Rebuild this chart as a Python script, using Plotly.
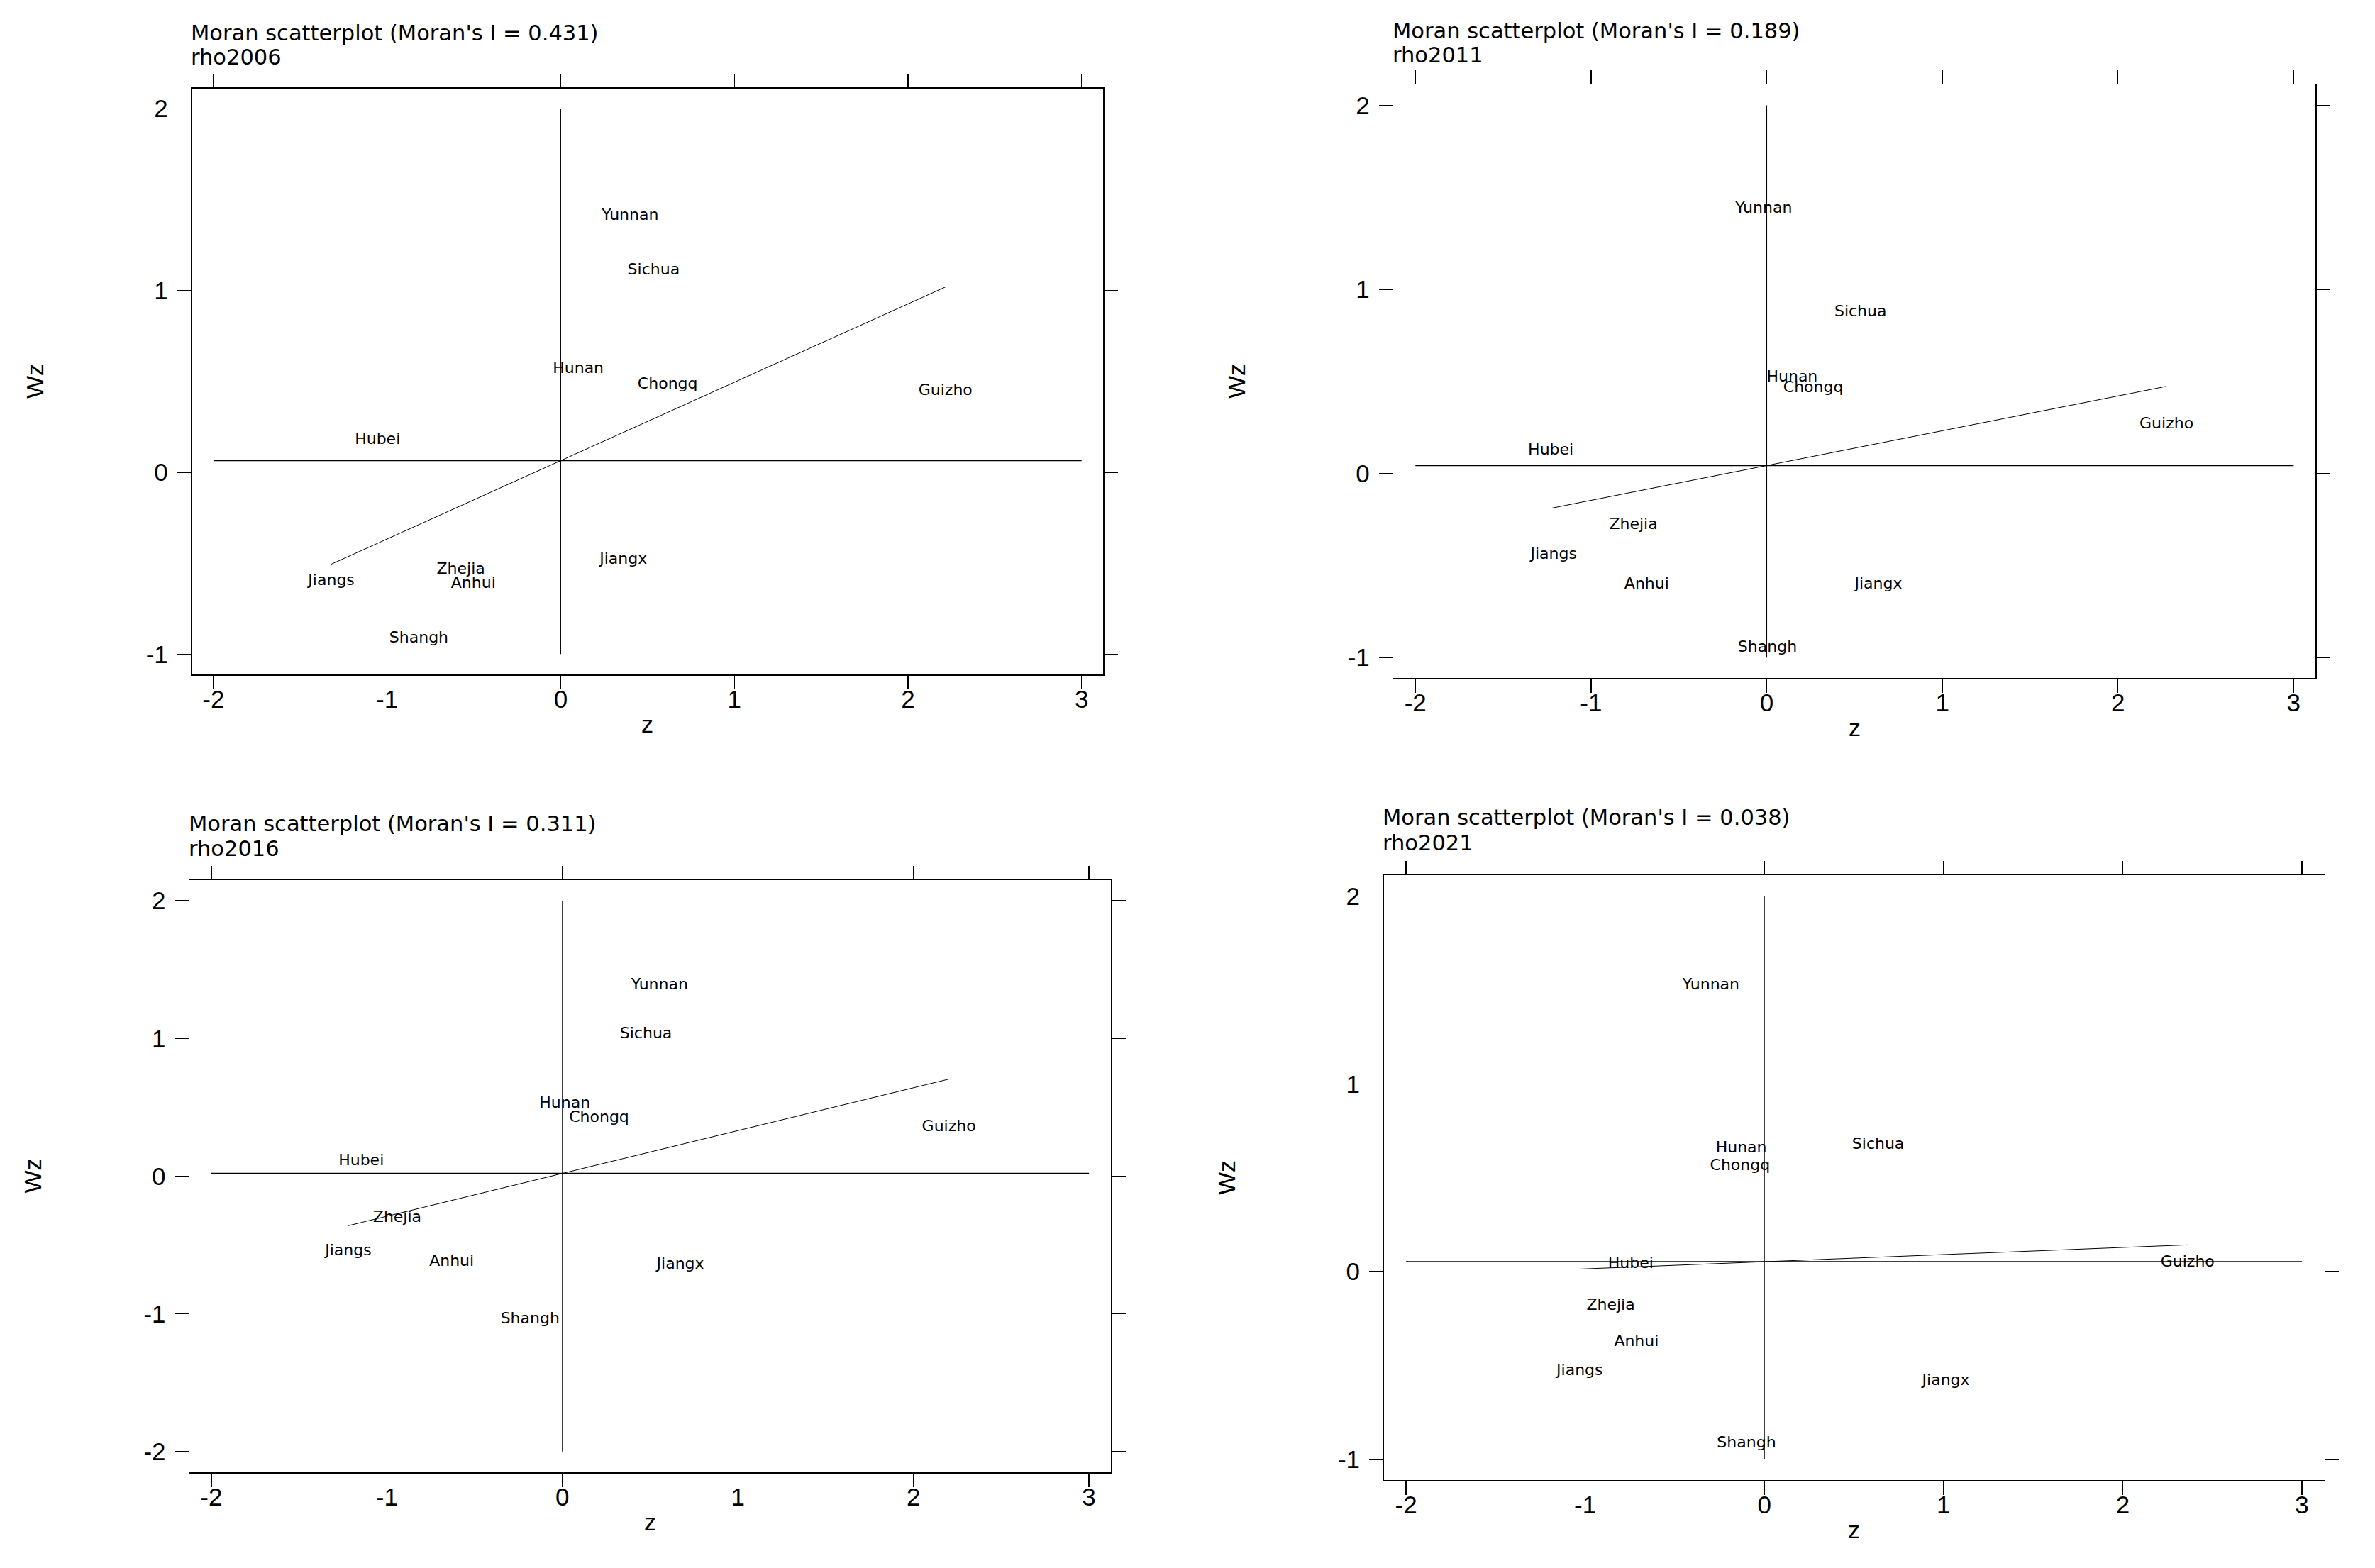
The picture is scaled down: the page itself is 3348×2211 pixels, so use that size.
import plotly.graph_objects as go

# ---------------- data ----------------
provinces = ["Yunnan", "Sichua", "Hunan", "Chongq", "Guizho", "Hubei",
             "Zhejia", "Jiangs", "Anhui", "Jiangx", "Shangh"]

z_2006 = [0.400, 0.535, 0.101, 0.616, 2.216, -1.055, -0.575, -1.321, -0.503, 0.361, -0.817]
wz_2006 = [1.409, 1.108, 0.566, 0.481, 0.446, 0.178, -0.537, -0.600, -0.613, -0.482, -0.914]

z_2011 = [-0.017, 0.534, 0.145, 0.265, 2.276, -1.229, -0.759, -1.213, -0.683, 0.636, 0.004]
wz_2011 = [1.436, 0.874, 0.520, 0.463, 0.266, 0.123, -0.279, -0.444, -0.606, -0.603, -0.949]

z_2016 = [0.554, 0.476, 0.014, 0.209, 2.202, -1.146, -0.941, -1.220, -0.631, 0.672, -0.184]
wz_2016 = [1.383, 1.029, 0.525, 0.423, 0.357, 0.106, -0.306, -0.548, -0.624, -0.642, -1.040]

z_2021 = [-0.298, 0.635, -0.129, -0.136, 2.362, -0.746, -0.858, -1.031, -0.714, 1.013, -0.100]
wz_2021 = [1.526, 0.673, 0.654, 0.560, 0.049, 0.041, -0.181, -0.532, -0.374, -0.583, -0.914]

variables = ["rho2006", "rho2011", "rho2016", "rho2021"]
moran_I = [0.431, 0.189, 0.311, 0.038]
wz_mean = [0.064, 0.043, 0.020, 0.053]

x_ticks = [-2, -1, 0, 1, 2, 3]
y_ticks_a = [-1, 0, 1, 2]
y_ticks_b = [-2, -1, 0, 1, 2]

# ---------------- layout helpers ----------------
W, H = 3348, 2211

# pixel boxes (left, right, top, bottom) of each plot region
boxes = [
    (270.3, 1555.3, 124.5, 951.0),
    (1964.3, 3264.3, 119.3, 956.3),
    (267.0, 1566.0, 1241.0, 2076.0),
    (1950.5, 3276.5, 1234.0, 2087.0),
]
y_ranges = [(-1.112, 2.112), (-1.112, 2.112), (-2.15, 2.15), (-1.11, 2.112)]
x_range = (-2.125, 3.125)
title_pos = [(267, 46.5, 81), (1961, 43.5, 78), (264, 1161, 1196), (1947, 1152, 1188)]

panels = [
    (z_2006, wz_2006, y_ticks_a),
    (z_2011, wz_2011, y_ticks_a),
    (z_2016, wz_2016, y_ticks_b),
    (z_2021, wz_2021, y_ticks_a),
]

TITLE_FONT = "DejaVu Sans"
AXIS_FONT = "Liberation Sans, Arial, sans-serif"


def px(x):
    return x / W


def py(y):
    return 1 - y / H


fig = go.Figure()
annotations = []
layout = {}

for i, ((zs, wzs, yt), box, yr, tp) in enumerate(zip(panels, boxes, y_ranges, title_pos)):
    k = "" if i == 0 else str(i + 1)
    xa, ya = "x" + k, "y" + k
    left, right, top, bottom = box

    axis_common = dict(
        showline=True, linecolor="black", linewidth=1.5, mirror="allticks",
        ticks="outside", ticklen=19, tickwidth=1.3, tickcolor="black",
        showgrid=False, zeroline=False, fixedrange=True,
        tickfont=dict(family=AXIS_FONT, size=35, color="black"),
    )
    layout["xaxis" + k] = dict(
        axis_common, domain=[px(left), px(right)], range=list(x_range),
        tickvals=x_ticks, ticktext=[str(v) for v in x_ticks], anchor=ya,
        ticklabelstandoff=-16,
    )
    layout["yaxis" + k] = dict(
        axis_common, domain=[py(bottom), py(top)], range=list(yr),
        tickvals=yt, ticktext=[str(v) for v in yt], anchor=xa,
        ticklabelstandoff=6,
    )

    # horizontal line at mean of Wz across the x tick span
    fig.add_trace(go.Scatter(
        x=[min(x_ticks), max(x_ticks)], y=[wz_mean[i], wz_mean[i]],
        mode="lines", line=dict(color="black", width=1.6),
        xaxis=xa, yaxis=ya, hoverinfo="skip", showlegend=False))
    # vertical line at z = 0 across the y tick span
    fig.add_trace(go.Scatter(
        x=[0, 0], y=[min(yt), max(yt)],
        mode="lines", line=dict(color="black", width=1.1),
        xaxis=xa, yaxis=ya, hoverinfo="skip", showlegend=False))
    # regression line (slope = Moran's I)
    zmin, zmax = min(zs), max(zs)
    fig.add_trace(go.Scatter(
        x=[zmin, zmax],
        y=[wz_mean[i] + moran_I[i] * zmin, wz_mean[i] + moran_I[i] * zmax],
        mode="lines", line=dict(color="black", width=1.0),
        xaxis=xa, yaxis=ya, hoverinfo="skip", showlegend=False))
    # labels
    fig.add_trace(go.Scatter(
        x=zs, y=wzs, text=provinces, mode="text", textposition="middle center",
        textfont=dict(family=TITLE_FONT, size=22, color="black"),
        xaxis=xa, yaxis=ya, hoverinfo="skip", showlegend=False))

    # titles
    tx, ty1, ty2 = tp
    annotations.append(dict(
        text="Moran scatterplot (Moran's I = %.3f)" % moran_I[i],
        x=px(tx), y=py(ty1), xref="paper", yref="paper",
        xanchor="left", yanchor="middle", showarrow=False,
        font=dict(family=TITLE_FONT, size=30.5, color="black")))
    annotations.append(dict(
        text=variables[i],
        x=px(tx), y=py(ty2), xref="paper", yref="paper",
        xanchor="left", yanchor="middle", showarrow=False,
        font=dict(family=TITLE_FONT, size=30.5, color="black")))

    # axis titles
    annotations.append(dict(
        text="z", x=px((left + right) / 2), y=py(bottom + 70),
        xref="paper", yref="paper", xanchor="center", yanchor="middle",
        showarrow=False, font=dict(family=AXIS_FONT, size=34, color="black")))
    annotations.append(dict(
        text="Wz", x=px(left - 222), y=py((top + bottom) / 2),
        xref="paper", yref="paper", xanchor="center", yanchor="middle",
        textangle=-90, showarrow=False,
        font=dict(family=AXIS_FONT, size=34, color="black")))

fig.update_layout(
    width=W, height=H,
    margin=dict(l=0, r=0, t=0, b=0),
    paper_bgcolor="white", plot_bgcolor="white",
    showlegend=False,
    annotations=annotations,
    **layout,
)

fig.write_html(
    "out.html",
    config={"displayModeBar": False, "staticPlot": True},
    post_script="document.body.style.margin='0';document.body.style.padding='0';"
                "document.body.style.overflow='hidden';",
)
